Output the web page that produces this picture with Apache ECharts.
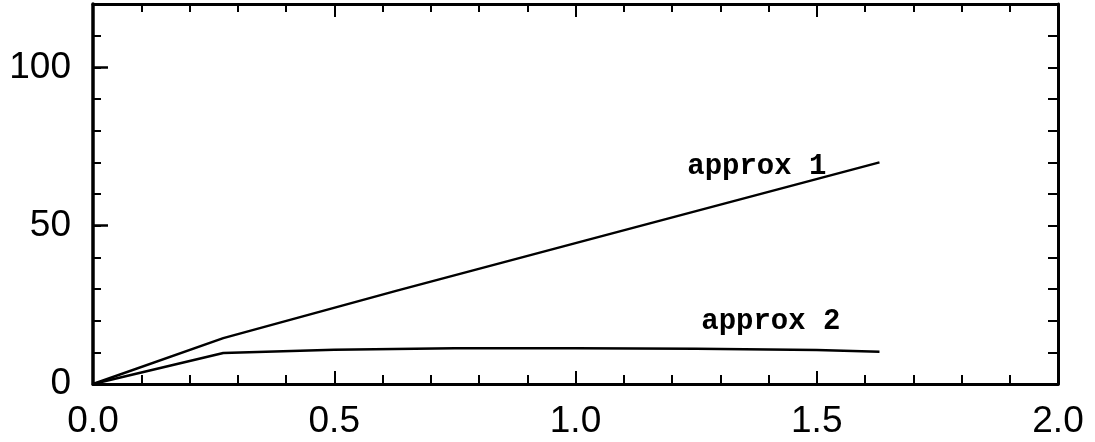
<!DOCTYPE html>
<html>
<head>
<meta charset="utf-8">
<script src="https://cdn.jsdelivr.net/npm/echarts@6/dist/echarts.min.js"></script>
<style>
  html, body { margin: 0; padding: 0; background: #fff; }
  #chart { width: 1095px; height: 442px; }
</style>
</head>
<body>
<div id="chart"></div>
<script>
// Curve samples as [x, y]
const approx1X = [0, 0.27, 0.63, 1.0, 1.63];
const approx1Y = [0, 14.5, 29.5, 44.5, 70];
const approx2X = [0, 0.27, 0.5, 0.75, 1.0, 1.25, 1.5, 1.63];
const approx2Y = [0, 9.8, 10.8, 11.3, 11.3, 11.1, 10.7, 10.2];
const seriesNames = ['approx 1', 'approx 2'];
const xTickLabels = ['0.0', '0.5', '1.0', '1.5', '2.0'];
const yTickLabels = ['0', '50', '100'];

const ink = '#000';
const labelFont = { fontFamily: 'Liberation Mono', fontSize: 29, fontWeight: 'bold', color: ink };

function buildData(xs, ys, labelOpts) {
  return xs.map((x, i) => {
    const item = { value: [x, ys[i]] };
    if (i === xs.length - 1) {
      item.label = Object.assign({ show: true, formatter: '{a}' }, labelFont, labelOpts);
    }
    return item;
  });
}

const tickLabelStyle = { fontFamily: 'Liberation Sans', fontSize: 37, color: ink };

const chart = echarts.init(document.getElementById('chart'), null, { renderer: 'canvas' });
chart.setOption({
  animation: false,
  backgroundColor: '#fff',
  grid: { left: 93, right: 37, top: 4, bottom: 58, containLabel: false },
  xAxis: [
    {
      type: 'value', position: 'bottom', min: 0, max: 2, interval: 0.5,
      axisLine: { show: true, onZero: false, lineStyle: { color: ink, width: 3 } },
      axisTick: { show: true, inside: true, length: 13, lineStyle: { color: ink, width: 2 } },
      minorTick: { show: true, splitNumber: 5, length: 9, lineStyle: { color: ink, width: 2 } },
      splitLine: { show: false },
      axisLabel: Object.assign({ margin: 19, formatter: (v) => xTickLabels[Math.round(v / 0.5)] }, tickLabelStyle)
    },
    {
      type: 'value', position: 'top', min: 0, max: 2, interval: 0.5,
      axisLine: { show: true, onZero: false, lineStyle: { color: ink, width: 3 } },
      axisTick: { show: true, inside: true, length: 13, lineStyle: { color: ink, width: 2 } },
      minorTick: { show: true, splitNumber: 5, length: 8, lineStyle: { color: ink, width: 2 } },
      splitLine: { show: false },
      axisLabel: { show: false }
    }
  ],
  yAxis: [
    {
      type: 'value', position: 'left', min: 0, max: 120, interval: 10,
      axisLine: { show: true, onZero: false, lineStyle: { color: ink, width: 3.5 } },
      axisTick: { show: true, inside: true, length: 8, lineStyle: { color: ink, width: 2 } },
      splitLine: { show: false },
      axisLabel: Object.assign({
        margin: 22,
        formatter: (v) => (v % 50 === 0 && v <= 100 ? yTickLabels[v / 50] : '')
      }, tickLabelStyle)
    },
    {
      type: 'value', position: 'left', min: 0, max: 120, interval: 50,
      axisLine: { show: false },
      axisTick: { show: true, inside: true, length: 15, lineStyle: { color: ink, width: 2.5 } },
      splitLine: { show: false },
      axisLabel: { show: false }
    },
    {
      type: 'value', position: 'right', min: 0, max: 120, interval: 10,
      axisLine: { show: true, onZero: false, lineStyle: { color: ink, width: 3 } },
      axisTick: { show: true, inside: true, length: 10, lineStyle: { color: ink, width: 2 } },
      splitLine: { show: false },
      axisLabel: { show: false }
    }
  ],
  series: [
    {
      name: seriesNames[0], type: 'line', xAxisIndex: 0, yAxisIndex: 0,
      data: buildData(approx1X, approx1Y, { position: 'left', distance: 53, offset: [0, 4] }),
      symbol: 'circle', symbolSize: 0, showSymbol: true,
      lineStyle: { color: ink, width: 2.5 }, itemStyle: { color: ink },
      label: { show: false }
    },
    {
      name: seriesNames[1], type: 'line', xAxisIndex: 0, yAxisIndex: 0,
      data: buildData(approx2X, approx2Y, { position: 'left', distance: 39, offset: [0, -30] }),
      symbol: 'circle', symbolSize: 0, showSymbol: true,
      lineStyle: { color: ink, width: 2.5 }, itemStyle: { color: ink },
      label: { show: false }
    }
  ]
});
</script>
</body>
</html>
